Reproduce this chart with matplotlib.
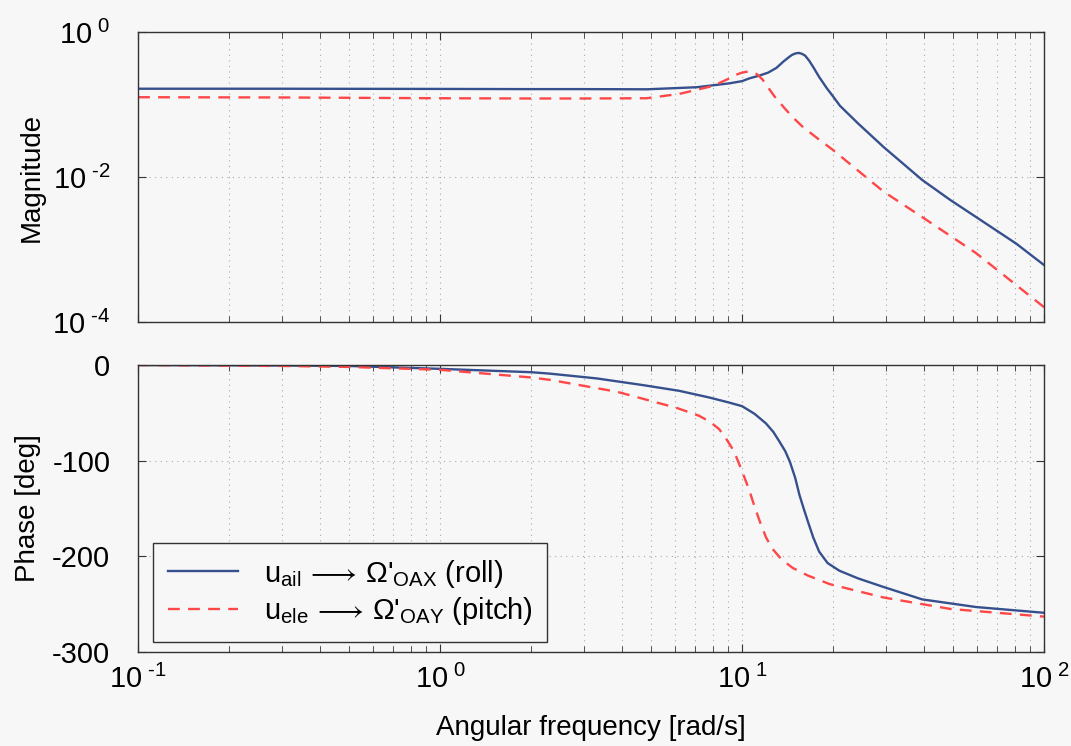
import matplotlib
matplotlib.use("Agg")
import matplotlib.pyplot as plt
from matplotlib.ticker import FixedLocator, FixedFormatter, LogLocator, NullFormatter

plt.rcParams["font.family"] = ["Liberation Sans", "DejaVu Sans"]
plt.rcParams["mathtext.fontset"] = "custom"
plt.rcParams["mathtext.rm"] = "Liberation Sans"
plt.rcParams["mathtext.it"] = "Liberation Sans:italic"

# magnitude
w_mag_roll = [0.1, 0.3, 1, 2, 3, 4.83, 7.08, 9.1, 10, 10.6, 11.4, 12.2, 13.0, 13.7,
              14.2, 14.6, 15.0, 15.4, 15.8, 16.2, 16.7, 17.2, 18.0, 19.1, 20.0, 21.1,
              24.2, 29.4, 39.5, 49, 59.6, 81, 100]
mag_roll = [0.165, 0.165, 0.164, 0.163, 0.163, 0.162, 0.173, 0.196, 0.21, 0.23, 0.25,
            0.275, 0.32, 0.39, 0.44, 0.48, 0.505, 0.515, 0.50, 0.47, 0.40, 0.33,
            0.24, 0.167, 0.13, 0.096, 0.055, 0.026, 0.0091, 0.0048, 0.0028, 0.0012,
            0.00061]
w_mag_pitch = [0.1, 0.3, 1, 2, 3, 4.83, 6.2, 8.0, 9.1, 9.5, 9.97, 10.3, 10.6, 11.0,
               11.3, 11.7, 12.1, 12.8, 13.7, 14.7, 15.9, 17.8, 20.0, 29.4, 39.5, 59.6,
               100]
mag_pitch = [0.126, 0.125, 0.122, 0.121, 0.121, 0.122, 0.14, 0.18, 0.23, 0.255, 0.274,
             0.282, 0.284, 0.275, 0.255, 0.22, 0.18, 0.13, 0.093, 0.067, 0.049, 0.034,
             0.0236, 0.0063, 0.0028, 0.00089, 0.00016]

# phase [deg]
w_ph_roll = [0.1, 0.3, 0.5, 1, 2, 2.31, 3.3, 4.7, 6.2, 7.8, 9.0, 10, 11, 12, 12.7,
             13.3, 13.9, 14.4, 15.0, 15.5, 16.0, 16.5, 17.2, 18.0, 19.2, 21.0, 24.2,
             29.4, 39.5, 59.6, 100]
ph_roll = [0, -0.5, -1, -4, -7.5, -9, -14, -21, -27, -34, -39, -43, -51, -61, -70,
           -80, -90, -101, -118, -136, -150, -163, -180, -195, -207, -215, -223,
           -232, -245, -253, -259]
w_ph_pitch = [0.1, 0.3, 0.5, 1, 2, 2.31, 3.86, 6.1, 7.2, 7.8, 8.4, 8.9, 9.4, 9.8,
              10.2, 10.6, 11.0, 11.5, 12.0, 12.6, 13.5, 14.7, 16.5, 19.5, 29.4, 49,
              100]
ph_pitch = [0, -1, -2, -5, -13, -15.5, -28, -45, -53, -59, -67, -78, -90, -104,
            -118, -132, -148, -165, -180, -192, -203, -212, -220, -229, -243, -255,
            -263]

labels = [r"u$_{\mathrm{ail}}\,\longrightarrow\,$Ω'$_{\mathrm{OAX}}$ (roll)",
          r"u$_{\mathrm{ele}}\,\longrightarrow\,$Ω'$_{\mathrm{OAY}}$ (pitch)"]
xlabels = [r"$10^{\ \text{-1}}$", r"$10^{\ 0}$", r"$10^{\ 1}$", r"$10^{\ 2}$"]
ylabels_mag = [r"$10^{\ \text{-4}}$", r"$10^{\ \text{-2}}$", r"$10^{\ 0}$"]
ylabels_ph = ["-300", "-200", "-100", "0"]

BLUE = "#36508e"
RED = "#ff4747"
BG = "#f7f7f7"
TFS = 21
LFS = 20

fig = plt.figure(figsize=(10.71, 7.46), dpi=100, facecolor=BG)
ax1 = fig.add_axes([0.1289, 0.5684, 0.8459, 0.3887], facecolor=BG)
ax2 = fig.add_axes([0.1289, 0.1260, 0.8459, 0.3847], facecolor=BG)

ax1.plot(w_mag_roll, mag_roll, color=BLUE, lw=1.7)
ax1.plot(w_mag_pitch, mag_pitch, color=RED, lw=1.7, ls=(0, (5, 3.5)))
ax2.plot(w_ph_roll, ph_roll, color=BLUE, lw=1.7, label=labels[0])
ax2.plot(w_ph_pitch, ph_pitch, color=RED, lw=1.7, ls=(0, (5, 3.5)), label=labels[1])

for ax in (ax1, ax2):
    ax.set_xscale("log")
    ax.set_xlim(0.1, 100)
    ax.xaxis.set_major_locator(FixedLocator([0.1, 1, 10, 100]))
    ax.xaxis.set_minor_locator(LogLocator(base=10, subs=range(2, 10)))
    ax.xaxis.set_minor_formatter(NullFormatter())
    ax.grid(True, which="both", axis="x", color="#aaaaaa", ls=(0, (1, 4)), lw=0.8)
    ax.grid(True, which="major", axis="y", color="#aaaaaa", ls=(0, (1, 4)), lw=0.8)
    ax.tick_params(which="both", direction="in", top=True, right=True,
                   labelsize=TFS, color="#333333")
    ax.tick_params(axis="y", pad=20)
    ax.tick_params(axis="x", pad=9)
    ax.tick_params(which="major", length=6)
    ax.tick_params(which="minor", length=4)
    for s in ax.spines.values():
        s.set_color("#333333")
        s.set_linewidth(1.0)

ax1.set_yscale("log")
ax1.set_ylim(1e-4, 1)
ax1.yaxis.set_major_locator(FixedLocator([1e-4, 1e-2, 1]))
ax1.yaxis.set_major_formatter(FixedFormatter(ylabels_mag))
ax1.yaxis.set_minor_locator(FixedLocator([]))
ax1.set_xticklabels([])
ax1.set_ylabel("Magnitude", fontsize=LFS, va="center")
ax1.yaxis.set_label_coords(-0.117, 0.5)

ax2.set_ylim(-300, 0)
ax2.yaxis.set_major_locator(FixedLocator([-300, -200, -100, 0]))
ax2.yaxis.set_major_formatter(FixedFormatter(ylabels_ph))
ax2.set_xticklabels(xlabels)
ax2.set_ylabel("Phase [deg]", fontsize=LFS, va="center")
ax2.yaxis.set_label_coords(-0.121, 0.5)
ax2.set_xlabel("Angular frequency [rad/s]", fontsize=LFS, va="center")
ax2.xaxis.set_label_coords(0.5, -0.265)

leg = ax2.legend(loc="lower left", bbox_to_anchor=(0.0166, 0.035), borderaxespad=0,
                 fontsize=21, frameon=True, fancybox=False, edgecolor="#333333",
                 facecolor=BG, framealpha=1, handlelength=2.4, handletextpad=0.9,
                 borderpad=0.5, labelspacing=0.2)
leg.get_frame().set_linewidth(1.0)

fig.savefig("out.png", dpi=100, facecolor=BG)
